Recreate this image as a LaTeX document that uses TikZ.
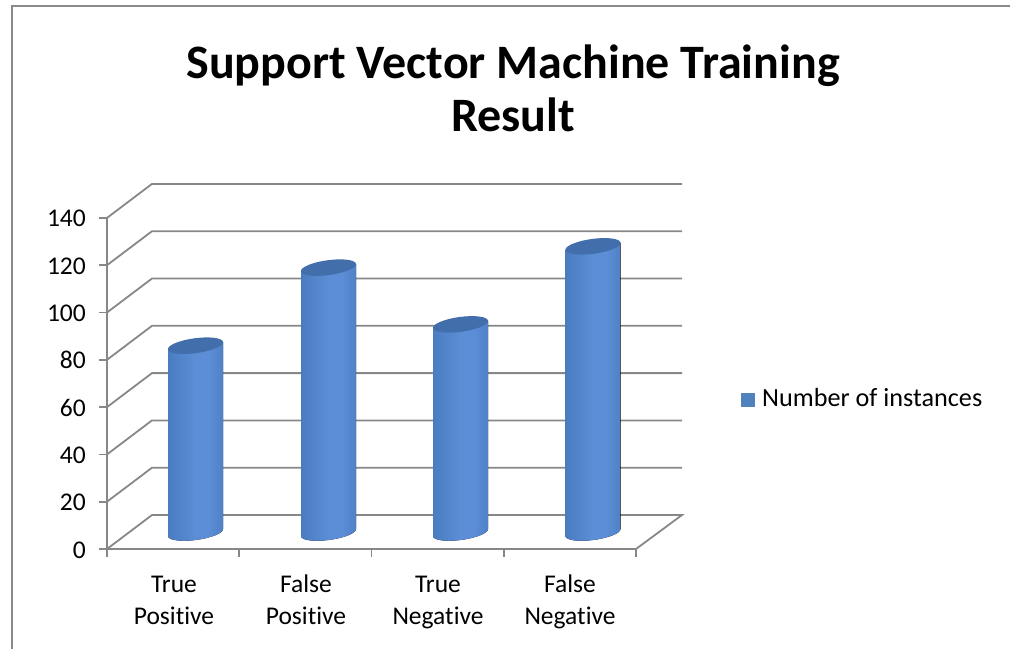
\documentclass[tikz,border=0pt]{standalone}
\usepackage{fontspec}
\setmainfont{Carlito}[Ligatures=NoCommon]
\definecolor{gridgray}{HTML}{878787}
\definecolor{framegray}{HTML}{8A8A8A}
\definecolor{bardark}{HTML}{2E5B96}
\definecolor{barmid}{HTML}{4677BC}
\definecolor{barlight}{HTML}{5B8ED6}
\definecolor{bardarker}{HTML}{2A4E82}
\definecolor{bartopc}{HTML}{426FAB}
\definecolor{legendblue}{HTML}{4F81BD}
\pgfdeclarehorizontalshading{cylbody}{100bp}{%
  color(0bp)=(bardark); color(18bp)=(barmid); color(50bp)=(barlight);
  color(62bp)=(barlight); color(85bp)=(barmid); color(100bp)=(bardarker)}
\begin{document}
\begin{tikzpicture}[x=1pt,y=-1pt,
  gridline/.style={draw=gridgray,line width=1.8pt},
  frameline/.style={draw=framegray,line width=1.6pt},
  ticklabel/.style={anchor=base east,inner sep=0pt,font=\fontsize{25.5}{30}\selectfont},
  catlabel/.style={anchor=base,inner sep=0pt,font=\fontsize{25.5}{30}\selectfont},
  titlelabel/.style={anchor=base,inner sep=0pt,font=\fontsize{48}{52}\selectfont\bfseries},
  barbody/.style={shading=cylbody},
  bartop/.style={fill=bartopc},
]
\useasboundingbox (0,0) rectangle (1010,649);
% outer frame (left and top edges)
\draw[frameline] (12,649) -- (12,6) -- (1010,6);

% title
\node[titlelabel] (title1) at (513,78) {Support Vector Machine Training};
\node[titlelabel] (title2) at (513,131) {Result};

% grid: side wall diagonals and back wall lines
\foreach \k in {1,...,7}{
  \coordinate (f\k) at (107,{549-47.3*\k});
  \coordinate (b\k) at (152,{515-47.3*\k});
  \coordinate (r\k) at (682,{515-47.3*\k});
  \draw[gridline] (f\k) -- (b\k) -- (r\k);
}
% floor
\coordinate (f0) at (107,549);
\coordinate (b0) at (152,515);
\coordinate (r0) at (682,515);
\coordinate (e0) at (636,549);
\draw[gridline] (f0) -- (b0) -- (r0) -- (e0) -- (f0);
% value axis with ticks
\draw[gridline] (f0) -- (f7);
\foreach \k in {0,...,7}{
  \draw[gridline] (f\k) -- ++(-8,0);
}
% category axis ticks
\foreach \i in {0,...,4}{
  \draw[gridline] ({107+132.25*\i},549) -- ++(0,8);
}
% value labels
\foreach \k/\v in {0/0,1/20,2/40,3/60,4/80,5/100,6/120,7/140}{
  \node[ticklabel] (yl\k) at (86,{549-47.3*\k+9}) {\v};
}

% cylinders
\def\ra{27.5}
\def\rb{7.5}
\def\sl{0.125}
\def\ybot{532.5}
\foreach \cx/\val [count=\n] in {195.5/79,328.5/112,460.5/88,593/121}{
  \pgfmathsetmacro{\ytop}{532.5-2.365*\val}
  \fill[barbody] (\cx-\ra,{\ytop+\sl*\ra}) -- (\cx-\ra,{\ybot+\sl*\ra})
    -- plot[domain=180:360,samples=48,variable=\t]
       ({\cx+\ra*cos(\t)},{\ybot-\sl*\ra*cos(\t)-\rb*sin(\t)})
    -- (\cx+\ra,{\ytop-\sl*\ra}) -- cycle;
  \fill[bartop] plot[domain=0:360,samples=72,variable=\t]
       ({\cx+\ra*cos(\t)},{\ytop-\sl*\ra*cos(\t)-\rb*sin(\t)}) -- cycle;
}

% category labels
\node[catlabel] (c1a) at (174,592) {True};
\node[catlabel] (c1b) at (174,624) {Positive};
\node[catlabel] (c2a) at (306,592) {False};
\node[catlabel] (c2b) at (306,624) {Positive};
\node[catlabel] (c3a) at (438,592) {True};
\node[catlabel] (c3b) at (438,624) {Negative};
\node[catlabel] (c4a) at (570,592) {False};
\node[catlabel] (c4b) at (570,624) {Negative};

% legend
\fill[legendblue] (741,393) rectangle (755,407);
\node[anchor=base west,inner sep=0pt,font=\fontsize{26.2}{30}\selectfont] (legend) at (762,406) {Number of instances};
\end{tikzpicture}
\end{document}
